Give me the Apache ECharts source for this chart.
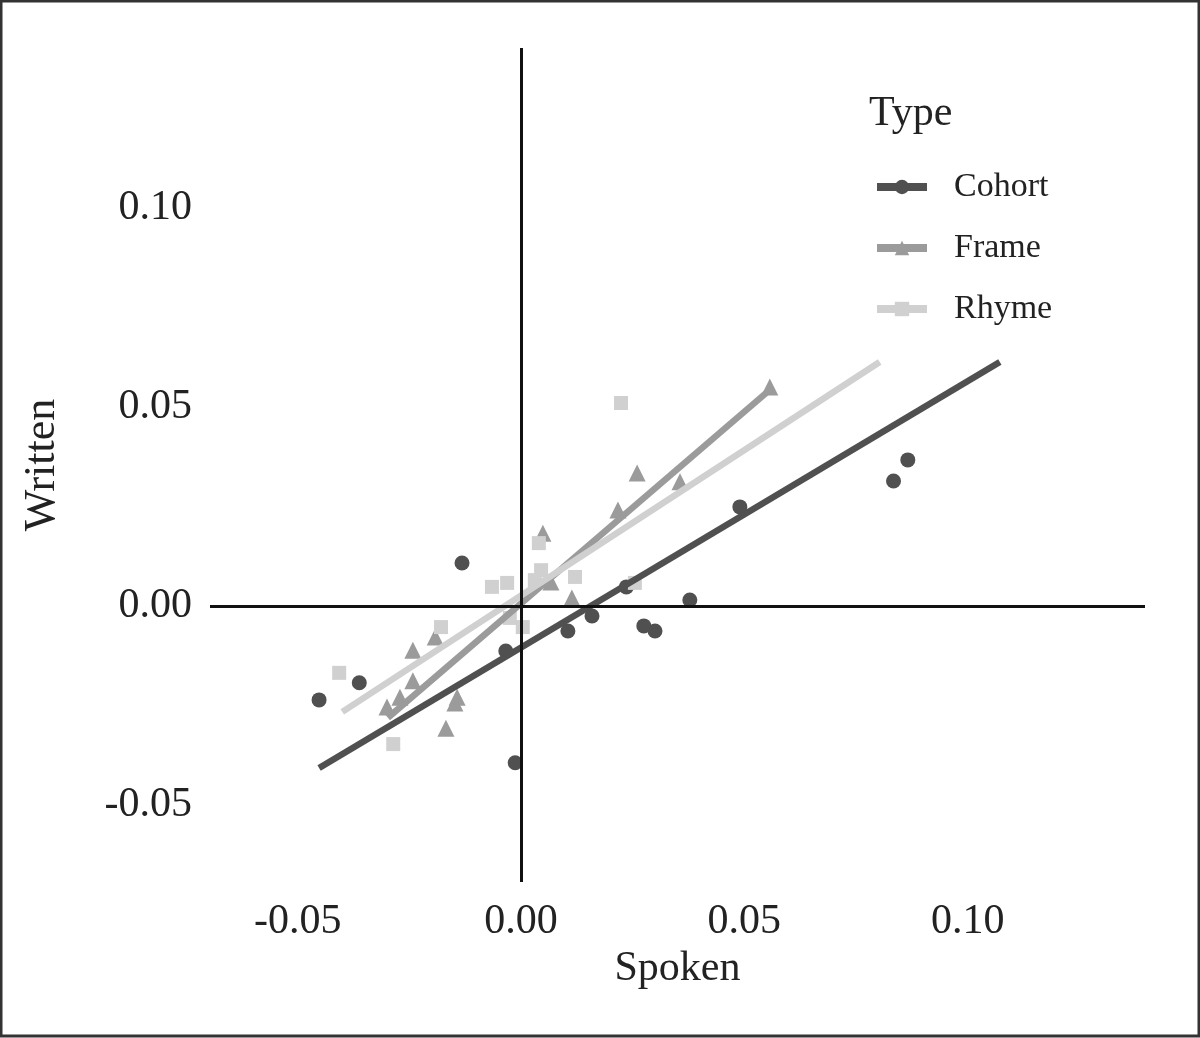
<!DOCTYPE html>
<html>
<head>
<meta charset="utf-8">
<script src="https://cdn.jsdelivr.net/npm/echarts@6/dist/echarts.min.js"></script>
<style>
  html, body { margin: 0; padding: 0; background: #fff; }
  #chart { width: 1200px; height: 1038px; }
</style>
</head>
<body>
<div id="chart"></div>
<script>
// values
var types = ["Cohort", "Frame", "Rhyme"];

var cohortX = [-0.0452, -0.0362, -0.0132, -0.0034, -0.0013, 0.0105, 0.0159, 0.0236, 0.0275, 0.0300, 0.0378, 0.0490, 0.0834, 0.0866];
var cohortY = [-0.0236, -0.0193, 0.0108, -0.0113, -0.0394, -0.0063, -0.0025, 0.0048, -0.0050, -0.0063, 0.0015, 0.0249, 0.0314, 0.0367];

var frameX = [-0.0300, -0.0271, -0.0242, -0.0242, -0.0192, -0.0168, -0.0148, -0.0143, 0.0049, 0.0067, 0.0114, 0.0217, 0.0260, 0.0356, 0.0557];
var frameY = [-0.0254, -0.0229, -0.0188, -0.0111, -0.0078, -0.0307, -0.0244, -0.0229, 0.0183, 0.0060, 0.0020, 0.0241, 0.0334, 0.0312, 0.0550];

var rhymeX = [-0.0407, -0.0286, -0.0179, -0.0065, -0.0031, -0.0025, 0.0004, 0.0031, 0.0040, 0.0045, 0.0121, 0.0224, 0.0255];
var rhymeY = [-0.0168, -0.0347, -0.0053, 0.0048, 0.0058, -0.0030, -0.0053, 0.0065, 0.0158, 0.0090, 0.0073, 0.0510, 0.0058];

// fitted lines (visible ends)
var cohortFitX = [-0.0452, 0.1072];
var cohortFitY = [-0.0407, 0.0613];
var frameFitX = [-0.0298, 0.0557];
var frameFitY = [-0.0281, 0.0543];
var rhymeFitX = [-0.0400, 0.0803];
var rhymeFitY = [-0.0266, 0.0613];

var xTicks = [-0.05, 0, 0.05, 0.10];
var yTicks = [-0.05, 0, 0.05, 0.10];

var colors = ["#505050", "#9b9b9b", "#d0d0d0"];
var symbols = ["circle", "triangle", "rect"];
var symbolSizes = [15, 17, 14];

function pairs(xs, ys) {
    return xs.map(function (x, i) { return [x, ys[i]]; });
}

var pointSets = [pairs(cohortX, cohortY), pairs(frameX, frameY), pairs(rhymeX, rhymeY)];
var fitSets = [pairs(cohortFitX, cohortFitY), pairs(frameFitX, frameFitY), pairs(rhymeFitX, rhymeFitY)];

var font = "Liberation Serif";
var series = [];

// fit lines first so the legend takes its icon from them; drawn above the points via z
types.forEach(function (t, i) {
    series.push({
        name: t,
        type: "line",
        data: fitSets[i],
        symbol: symbols[i],
        symbolSize: symbolSizes[i],
        showSymbol: false,
        lineStyle: {color: colors[i], width: 6.5, cap: "butt"},
        itemStyle: {color: colors[i]},
        z: 4,
        silent: true
    });
});
types.forEach(function (t, i) {
    series.push({
        name: t,
        type: "scatter",
        data: pointSets[i],
        symbol: symbols[i],
        symbolSize: symbolSizes[i],
        itemStyle: {color: colors[i], opacity: 1},
        z: 3
    });
});
// zero reference lines
series.push({
    type: "scatter",
    data: [],
    z: 1,
    markLine: {
        silent: true,
        symbol: "none",
        label: {show: false},
        lineStyle: {color: "#111", width: 3, type: "solid"},
        data: [{xAxis: 0}, {yAxis: 0}]
    }
});

var option = {
    animation: false,
    textStyle: {fontFamily: font},
    title: {
        text: "Type",
        left: 864,
        top: 88,
        textStyle: {fontFamily: font, fontSize: 42, fontWeight: "normal", color: "#222"}
    },
    legend: {
        data: types,
        orient: "vertical",
        left: 873,
        top: 170,
        padding: 0,
        itemWidth: 50,
        itemHeight: 18,
        itemGap: 27,
        lineStyle: {width: 8},
        textStyle: {fontFamily: font, fontSize: 34, color: "#222", lineHeight: 34, padding: [0, 0, 0, 22]}
    },
    graphic: [{
        type: "rect",
        shape: {x: 1, y: 1, width: 1198, height: 1035},
        style: {fill: "none", stroke: "#333", lineWidth: 3},
        silent: true
    }],
    grid: {left: 210, right: 55, top: 48, bottom: 156},
    xAxis: {
        type: "value",
        min: -0.06962,
        max: 0.13970,
        name: "Spoken",
        nameLocation: "middle",
        nameGap: 64,
        nameTextStyle: {fontFamily: font, fontSize: 42, color: "#222"},
        axisLine: {show: false},
        axisTick: {show: false},
        splitLine: {show: false},
        axisLabel: {
            customValues: xTicks,
            margin: 19,
            fontFamily: font,
            fontSize: 42,
            color: "#222",
            formatter: function (v) { return v.toFixed(2); }
        }
    },
    yAxis: {
        type: "value",
        min: -0.06935,
        max: 0.14020,
        name: "Written",
        nameLocation: "middle",
        nameGap: 146,
        nameTextStyle: {fontFamily: font, fontSize: 44, color: "#222"},
        axisLine: {show: false},
        axisTick: {show: false},
        splitLine: {show: false},
        axisLabel: {
            customValues: yTicks,
            margin: 18,
            fontFamily: font,
            fontSize: 42,
            color: "#222",
            formatter: function (v) { return v.toFixed(2); }
        }
    },
    series: series
};

echarts.init(document.getElementById("chart")).setOption(option);
</script>
</body>
</html>
